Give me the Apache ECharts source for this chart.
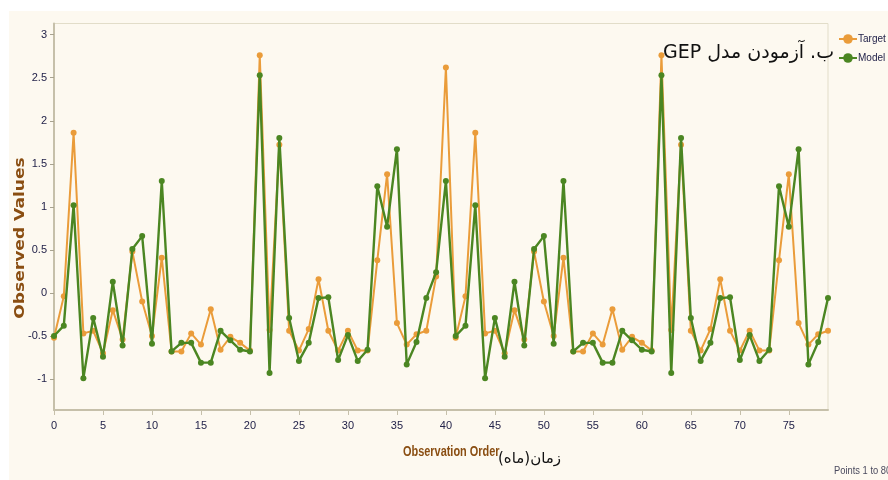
<!DOCTYPE html>
<html>
<head>
<meta charset="utf-8">
<script src="https://cdn.jsdelivr.net/npm/echarts@6/dist/echarts.min.js"></script>
<style>
  html, body { margin: 0; padding: 0; background: #ffffff; }
  #chart { width: 888px; height: 480px; }
</style>
</head>
<body>
<div id="chart"></div>
<script>
// Observation order (x axis categories)
const observationOrder = Array.from({ length: 80 }, (_, i) => String(i));

// Observed target values
const targetValues = [
  -0.52, -0.04, 1.86, -0.47, -0.44, -0.70, -0.20, -0.54, 0.48, -0.10,
  -0.50, 0.41, -0.68, -0.68, -0.47, -0.60, -0.19, -0.66, -0.51, -0.58,
  -0.67, 2.76, -0.43, 1.72, -0.44, -0.67, -0.42, 0.16, -0.44, -0.67,
  -0.44, -0.67, -0.67, 0.38, 1.38, -0.35, -0.60, -0.48, -0.44, 0.19,
  2.62, -0.52, -0.04, 1.86, -0.47, -0.44, -0.70, -0.20, -0.54, 0.48,
  -0.10, -0.50, 0.41, -0.68, -0.68, -0.47, -0.60, -0.19, -0.66, -0.51,
  -0.58, -0.67, 2.76, -0.43, 1.72, -0.44, -0.67, -0.42, 0.16, -0.44,
  -0.67, -0.44, -0.67, -0.67, 0.38, 1.38, -0.35, -0.60, -0.48, -0.44
];

// GEP model output
const modelValues = [
  -0.50, -0.38, 1.02, -0.99, -0.29, -0.74, 0.13, -0.61, 0.51, 0.66,
  -0.59, 1.30, -0.68, -0.58, -0.58, -0.81, -0.81, -0.44, -0.55, -0.66,
  -0.68, 2.53, -0.93, 1.80, -0.29, -0.79, -0.58, -0.06, -0.05, -0.78,
  -0.49, -0.79, -0.66, 1.24, 0.77, 1.67, -0.83, -0.57, -0.06, 0.24,
  1.30, -0.50, -0.38, 1.02, -0.99, -0.29, -0.74, 0.13, -0.61, 0.51,
  0.66, -0.59, 1.30, -0.68, -0.58, -0.58, -0.81, -0.81, -0.44, -0.55,
  -0.66, -0.68, 2.53, -0.93, 1.80, -0.29, -0.79, -0.58, -0.06, -0.05,
  -0.78, -0.49, -0.79, -0.66, 1.24, 0.77, 1.67, -0.83, -0.57, -0.06
];

// Value axis tick labels
const yTicks = [-1, -0.5, 0, 0.5, 1, 1.5, 2, 2.5, 3];

const labelFont = "'Liberation Sans', Arial, sans-serif";
const labelColor = '#23234a';
const titleBrown = '#8a4e12';
const panelColor = '#fdf9f0';
const RLE = '\u202B', PDF = '\u202C';

const chart = echarts.init(document.getElementById('chart'), null, { renderer: 'canvas' });

chart.setOption({
  backgroundColor: '#ffffff',
  animation: false,
  graphic: [
    {
      type: 'rect', left: 9, top: 11, z: -10, silent: true,
      shape: { width: 879, height: 469 },
      style: { fill: panelColor }
    },
    {
      // vertical axis title
      type: 'text', x: 20, y: 238, rotation: Math.PI / 2, scaleX: 1.22, z: 10,
      style: {
        text: 'Observed Values',
        font: "bold 14px 'DejaVu Sans', Verdana, sans-serif",
        fill: titleBrown, align: 'center', verticalAlign: 'middle'
      }
    },
    {
      type: 'text', x: 403, y: 452, scaleX: 0.78, z: 10,
      style: {
        text: 'Observation Order',
        font: "bold 14px 'Liberation Sans', Arial, sans-serif",
        fill: titleBrown, align: 'left', verticalAlign: 'middle'
      }
    },
    {
      type: 'text', x: 498, y: 459, z: 10,
      style: {
        text: RLE + 'زمان(ماه)' + PDF,
        font: "15px 'DejaVu Sans', sans-serif",
        fill: '#111111', align: 'left', verticalAlign: 'middle'
      }
    },
    {
      type: 'text', x: 663, y: 53, z: 20,
      style: {
        text: RLE + 'ب. آزمودن مدل GEP' + PDF,
        font: "19px 'DejaVu Sans', sans-serif",
        fill: '#111111', align: 'left', verticalAlign: 'middle'
      }
    },
    {
      type: 'text', x: 834, y: 471, scaleX: 0.85, z: 10,
      style: {
        text: 'Points 1 to 80',
        font: "11px 'Liberation Sans', Arial, sans-serif",
        fill: '#4a4a5e', align: 'left', verticalAlign: 'middle'
      }
    }
  ],
  grid: {
    left: 54, right: 60, top: 23.5, bottom: 70,
    show: true,
    backgroundColor: panelColor,
    borderColor: '#e2ddc9',
    borderWidth: 1
  },
  legend: {
    orient: 'vertical',
    left: 833, top: 29,
    itemWidth: 18, itemHeight: 12, itemGap: 9,
    textStyle: { fontFamily: labelFont, fontSize: 10, color: labelColor, padding: [0, 0, 0, -4] },
    data: ['Target', 'Model']
  },
  xAxis: {
    type: 'category',
    data: observationOrder,
    boundaryGap: false,
    axisLine: { onZero: false, lineStyle: { color: '#c6c0aa', width: 2 } },
    axisTick: { show: true, interval: 4, length: 5, lineStyle: { color: '#c6c0aa' } },
    axisLabel: {
      interval: 4, margin: 10,
      fontFamily: labelFont, fontSize: 11, color: labelColor
    },
    splitLine: { show: false }
  },
  yAxis: {
    type: 'value',
    min: -1.36, max: 3.13,
    axisLine: { show: true, lineStyle: { color: '#c6c0aa', width: 2 } },
    axisTick: { show: true, length: 4, customValues: yTicks, lineStyle: { color: '#a8a390' } },
    axisLabel: {
      customValues: yTicks, margin: 7,
      fontFamily: labelFont, fontSize: 11, color: labelColor
    },
    splitLine: { show: false }
  },
  series: [
    {
      name: 'Target',
      type: 'line',
      data: targetValues,
      symbol: 'circle', symbolSize: 6,
      itemStyle: { color: '#ea9c3a' },
      lineStyle: { color: '#ea9c3a', width: 2 },
      z: 2
    },
    {
      name: 'Model',
      type: 'line',
      data: modelValues,
      symbol: 'circle', symbolSize: 6,
      itemStyle: { color: '#4b8622' },
      lineStyle: { color: '#4b8622', width: 2.4 },
      z: 3
    }
  ]
});
</script>
</body>
</html>
